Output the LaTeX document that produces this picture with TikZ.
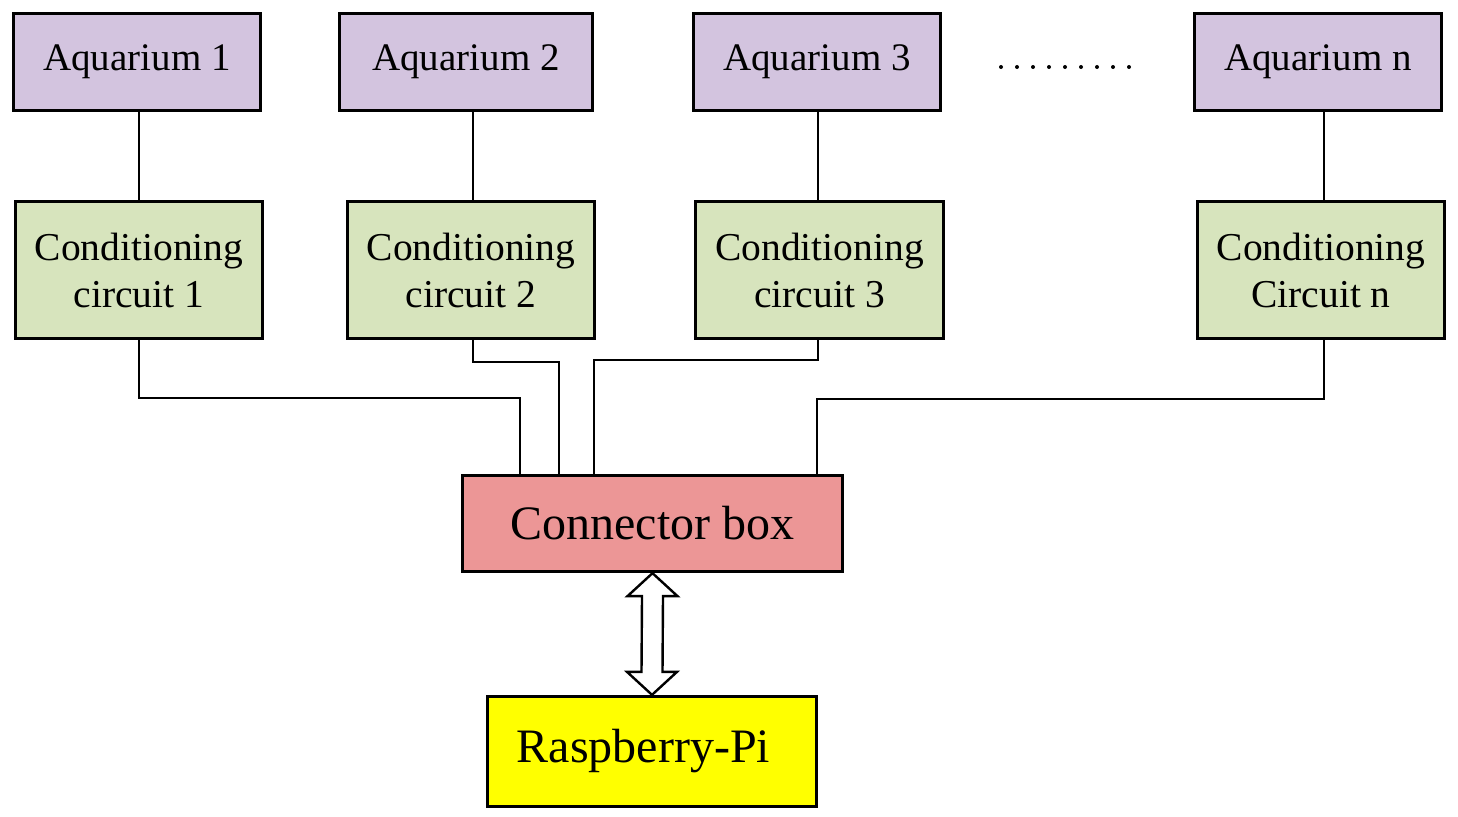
\documentclass[tikz,border=0pt]{standalone}
\usepackage{fontspec}
\setmainfont{Liberation Serif}
\usetikzlibrary{calc}
\definecolor{aqfill}{RGB}{211,196,223}
\definecolor{cofill}{RGB}{215,228,189}
\definecolor{cbfill}{RGB}{236,150,150}
\definecolor{pifill}{RGB}{255,255,0}
\tikzset{
  box/.style={draw=black, line width=3.3pt, inner sep=0pt, align=center},
  aqbox/.style={box, fill=aqfill, minimum width=247pt, minimum height=97pt, font=\fontsize{39}{44}\selectfont},
  cobox/.style={box, fill=cofill, minimum width=247pt, minimum height=137pt, font=\fontsize{39.5}{47}\selectfont},
  bigbox/.style={box, font=\fontsize{48}{52}\selectfont},
  wire/.style={line width=2.4pt}
}
\begin{document}
\begin{tikzpicture}[x=1pt, y=-1pt]
\useasboundingbox (0,0) rectangle (1458,816);
\node[aqbox] (aq1) at (137,62) {Aquarium 1};
\node[aqbox, minimum width=253pt] (aq2) at (466,62) {Aquarium 2};
\node[aqbox] (aq3) at (817,62) {Aquarium 3};
\node[aqbox] (aqn) at (1318,62) {Aquarium n};
\node[cobox] (c1) at (139,270) {Conditioning\\circuit 1};
\node[cobox] (c2) at (471,270) {Conditioning\\circuit 2};
\node[cobox, minimum width=248pt] (c3) at (819.5,270) {Conditioning\\circuit 3};
\node[cobox] (cn) at (1321,270) {Conditioning\\Circuit n};
\node[bigbox, fill=cbfill, minimum width=380pt, minimum height=96pt] (cb) at (652.5,523.5) {Connector box};
\node[bigbox, fill=pifill, minimum width=329pt, minimum height=110pt] (pi) at (652,751.5) {Raspberry-Pi\hspace*{17pt}};
% dots
\foreach \i in {0,...,8} \fill (1001+16*\i,67) circle (2pt);
% aquarium to conditioning
\draw[wire] (c1.north) -- (c1.north |- aq1.south);
\draw[wire] (c2.north -| 473,0) -- (aq2.south -| 473,0);
\draw[wire] (c3.north -| 818,0) -- (aq3.south -| 818,0);
\draw[wire] (cn.north -| 1324,0) -- (aqn.south -| 1324,0);
% conditioning to connector box
\coordinate (p1) at (cb.north -| 520,0);
\coordinate (p2) at (cb.north -| 559,0);
\coordinate (p3) at (cb.north -| 594,0);
\coordinate (p4) at (cb.north -| 817,0);
\draw[wire] (c1.south) |- (520,398) -- (p1);
\draw[wire] (c2.south -| 473,0) |- (559,362) -- (p2);
\draw[wire] (c3.south -| 818,0) |- (594,360) -- (p3);
\draw[wire] (cn.south -| 1324,0) |- (817,399) -- (p4);
% double arrow
\coordinate (T) at (cb.south);
\coordinate (B) at (pi.north);
\draw[line width=2.4pt, fill=white, line join=miter]
  (T) -- ($(T)+(25,23)$) -- ($(T)+(10.5,23)$) -- ($(B)+(10.5,-23)$) -- ($(B)+(25,-23)$)
  -- (B) -- ($(B)+(-25,-23)$) -- ($(B)+(-10.5,-23)$) -- ($(T)+(-10.5,23)$) -- ($(T)+(-25,23)$) -- cycle;
\end{tikzpicture}
\end{document}
